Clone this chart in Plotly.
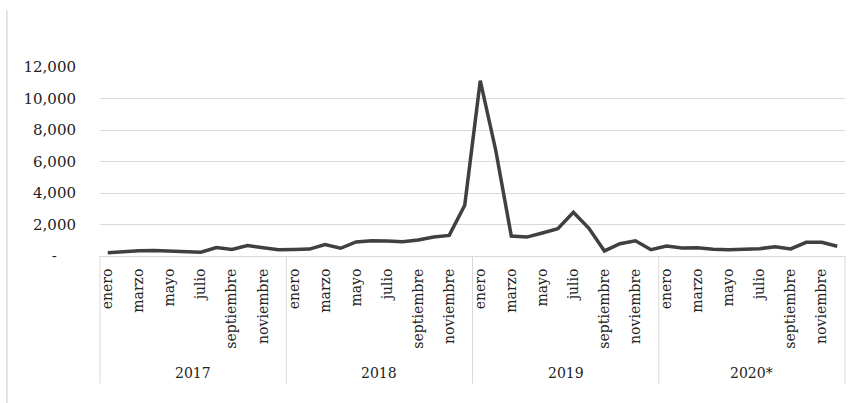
import plotly.graph_objects as go

years = ["2017", "2018", "2019", "2020*"]
months = ["enero", "febrero", "marzo", "abril", "mayo", "junio", "julio",
          "agosto", "septiembre", "octubre", "noviembre", "diciembre"]
shown_months = ["enero", "marzo", "mayo", "julio", "septiembre", "noviembre"]

values_2017 = [210, 280, 330, 350, 330, 290, 240, 540, 420, 660, 520, 400]
values_2018 = [410, 440, 720, 490, 890, 970, 950, 910, 1010, 1200, 1310, 3220]
values_2019 = [11130, 6700, 1270, 1200, 1460, 1730, 2775, 1760, 320, 780, 970, 400]
values_2020 = [630, 510, 530, 425, 390, 430, 465, 590, 450, 870, 870, 615]

values = values_2017 + values_2018 + values_2019 + values_2020
x_idx = list(range(len(values)))

y_tickvals = [0, 2000, 4000, 6000, 8000, 10000, 12000]
y_ticktext = ["-\u2007\u2007", "2,000", "4,000", "6,000", "8,000", "10,000", "12,000"]

tick_idx = [i for i in x_idx if months[i % 12] in shown_months]
tick_txt = [months[i % 12] for i in tick_idx]

fig = go.Figure()
fig.add_trace(go.Scatter(
    x=x_idx, y=values, mode="lines",
    line=dict(color="#404040", width=3.5),
    showlegend=False, hoverinfo="skip",
))

grey = "#d9d9d9"
font_family = "DejaVu Serif"

shapes = []
n_years = len(years)
for k in range(n_years + 1):
    shapes.append(dict(type="line", xref="paper", yref="paper",
                       x0=k / n_years, x1=k / n_years, y0=0, y1=-0.677,
                       line=dict(color=grey, width=1)))
# chart-area left border
shapes.append(dict(type="line", xref="paper", yref="paper",
                   x0=-0.125, x1=-0.125, y0=1.3, y1=-0.78,
                   line=dict(color=grey, width=1.5)))

annotations = []
for k, yr in enumerate(years):
    annotations.append(dict(text=yr, xref="paper", yref="paper",
                            x=(k + 0.5) / n_years, y=-0.62,
                            xanchor="center", yanchor="middle", showarrow=False,
                            font=dict(family=font_family, size=14, color="#222222")))

fig.update_layout(
    width=859, height=403,
    margin=dict(l=100, r=14, t=67, b=147),
    paper_bgcolor="white", plot_bgcolor="white",
    shapes=shapes, annotations=annotations,
    xaxis=dict(
        range=[-0.5, len(values) - 0.5],
        tickmode="array", tickvals=tick_idx, ticktext=tick_txt,
        tickangle=-90, showgrid=False, zeroline=False,
        showline=True, linecolor=grey, linewidth=1,
        ticks="outside", ticklen=6, tickcolor="rgba(0,0,0,0)",
        tickfont=dict(family=font_family, size=14, color="#222222"),
    ),
    yaxis=dict(
        range=[0, 12000],
        tickmode="array", tickvals=y_tickvals, ticktext=y_ticktext,
        showgrid=True, gridcolor=grey, gridwidth=1,
        zeroline=False, showline=False,
        ticks="outside", ticklen=20, tickcolor="rgba(0,0,0,0)",
        tickfont=dict(family=font_family, size=15, color="#222222"),
    ),
)

fig.write_html("out.html")
